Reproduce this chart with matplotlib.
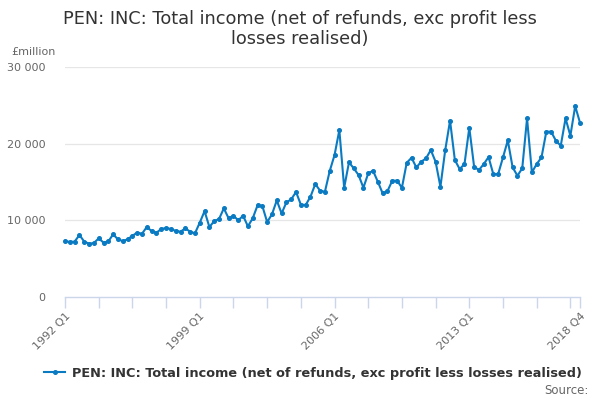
#!/usr/bin/env python3
"""PEN: INC total income, quarterly 1992 Q1 - 2018 Q4 (GBP million)."""

import matplotlib
matplotlib.use("Agg")
import matplotlib.pyplot as plt
import numpy as np

TITLE = "PEN: INC: Total income (net of refunds, exc profit less\nlosses realised)"
SERIES_LABEL = "PEN: INC: Total income (net of refunds, exc profit less losses realised)"
FIRST_YEAR = 1992
LAST_YEAR = 2018

# quarterly values, GBP million
VALUES = [
    7300, 7170, 7230, 8080, 7230, 6950, 7040, 7650,      # 1992-1993
    7100, 7250, 8170, 7520, 7300, 7520, 7990, 8390,      # 1994-1995
    8260, 9130, 8600, 8390, 8870, 9000, 8870, 8620,      # 1996-1997
    8520, 8950, 8520, 8300, 9700, 11200, 9130, 9900,     # 1998-1999
    10170, 11560, 10260, 10600, 10000, 10600, 9220, 10260,  # 2000-2001
    11950, 11870, 9780, 10780, 12600, 10900, 12340, 12740,  # 2002-2003
    13700, 12050, 12000, 13080, 14730, 13870, 13730, 16430,  # 2004-2005
    18510, 21770, 14250, 17560, 16780, 15900, 14250, 16130,  # 2006-2007
    16470, 15030, 13520, 13820, 15170, 15170, 14250, 17510,  # 2008-2009
    18160, 16900, 17640, 18080, 19170, 17640, 14380, 19170,  # 2010-2011
    23000, 17860, 16690, 17340, 22080, 16990, 16560, 17340,  # 2012-2013
    18250, 16000, 16040, 18210, 20430, 16910, 15820, 16780,  # 2014-2015
    23300, 16260, 17340, 18210, 21560, 21560, 20380, 19730,  # 2016-2017
    23300, 21040, 24900, 22730,                              # 2018
]

Y_TICKS = [0, 10000, 20000, 30000]

LINE_COLOR = "#0a7bc2"
TEXT_COLOR = "#333333"
TICK_COLOR = "#666666"


def quarter_labels(first_year, last_year):
    return [f"{y} Q{q}" for y in range(first_year, last_year + 1) for q in range(1, 5)]


def main():
    labels = quarter_labels(FIRST_YEAR, LAST_YEAR)
    x = np.arange(len(VALUES))

    fig = plt.figure(figsize=(6, 4), dpi=100)
    ax = fig.add_axes([65 / 600, 1 - 297 / 400, 515 / 600, 230 / 400])

    ax.plot(x, VALUES, color=LINE_COLOR, linewidth=1.5, marker="o",
            markersize=2.6, label=SERIES_LABEL, zorder=3, clip_on=False)

    ax.set_xlim(0, len(VALUES) - 1)
    ax.set_ylim(0, 30000)
    ax.set_yticks(Y_TICKS)
    ax.set_yticklabels([f"{v:,}".replace(",", " ") for v in Y_TICKS],
                       fontsize=8, color=TICK_COLOR)
    ax.tick_params(axis="y", length=0, pad=14)
    for v in Y_TICKS[1:]:
        ax.axhline(v, color="#e6e6e6", linewidth=0.9, zorder=1)

    tick_pos = list(range(0, len(VALUES), 7)) + [len(VALUES) - 1]
    ax.set_xticks(tick_pos)
    tick_text = [labels[p] if (p % 28 == 0 or p == len(VALUES) - 1) else "" for p in tick_pos]
    ax.set_xticklabels(tick_text, rotation=45, ha="right", rotation_mode="anchor",
                       fontsize=8, color=TICK_COLOR)
    ax.tick_params(axis="x", length=8, width=1, color="#ccd6eb", pad=2)

    for side in ["top", "right", "left"]:
        ax.spines[side].set_visible(False)
    ax.spines["bottom"].set_color("#ccd6eb")
    ax.spines["bottom"].set_linewidth(1)

    fig.text(0.5, 1 - 10 / 400, TITLE, ha="center", va="top", fontsize=12.8,
             color=TEXT_COLOR, linespacing=1.15)
    fig.text(11 / 600, 1 - 52 / 400, "£million", ha="left", va="center",
             fontsize=8, color=TICK_COLOR)

    fig.legend(loc="center", bbox_to_anchor=(313 / 600, 1 - 373 / 400), frameon=False,
               prop={"weight": "bold", "size": 9.3}, labelcolor=TEXT_COLOR,
               handlelength=1.6, handletextpad=0.5)
    fig.text(589 / 600, 1 - 390 / 400, "Source:", ha="right", va="center",
             fontsize=8.5, color=TICK_COLOR)

    fig.savefig("out.png", dpi=100)


if __name__ == "__main__":
    main()
